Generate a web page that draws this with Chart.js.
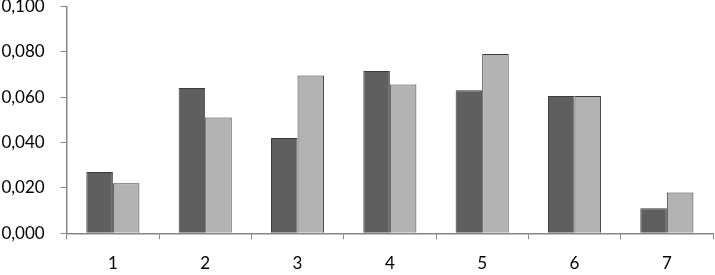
<!DOCTYPE html>
<html>
<head>
<meta charset="utf-8">
<script src="https://cdn.jsdelivr.net/npm/chart.js@4/dist/chart.umd.min.js"></script>
<style>
  html, body { margin: 0; padding: 0; background: #fff; overflow: hidden; }
  canvas { display: block; }
</style>
</head>
<body>
<canvas id="chart" width="715" height="275"></canvas>
<script>
// -----------------------------
// Data
// -----------------------------
const categories = ['1', '2', '3', '4', '5', '6', '7'];
const seriesDark = [0.027, 0.064, 0.042, 0.0715, 0.063, 0.0605, 0.011];
const seriesLight = [0.022, 0.051, 0.0695, 0.0655, 0.079, 0.0605, 0.018];
const yTicks = [0, 0.02, 0.04, 0.06, 0.08, 0.1];

const axisGray = '#868686';

// comma decimals, three places
function fmt(v) {
  return v.toFixed(3).replace('.', ',');
}

new Chart(document.getElementById('chart'), {
  type: 'bar',
  data: {
    labels: categories,
    datasets: [
      { data: seriesDark, backgroundColor: '#5f5f5f', borderColor: '#3c3c3c', borderWidth: 1 },
      { data: seriesLight, backgroundColor: '#b3b3b3', borderColor: '#3c3c3c', borderWidth: 1 }
    ]
  },
  options: {
    responsive: false,
    animation: false,
    layout: { padding: { top: 0, right: 2, bottom: 0, left: 0 } },
    plugins: { legend: { display: false }, tooltip: { enabled: false } },
    datasets: { bar: { categoryPercentage: 0.575, barPercentage: 1 } },
    scales: {
      x: {
        afterFit: axis => { axis.height = 41.7; },
        grid: { display: true, offset: true, drawOnChartArea: false, drawTicks: true, tickLength: 6, color: axisGray },
        border: { color: axisGray, width: 1.5 },
        ticks: { color: '#000', padding: 14, font: { family: 'Lato', size: 17 } }
      },
      y: {
        min: 0,
        max: 0.1,
        afterBuildTicks: axis => { axis.ticks = yTicks.map(v => ({ value: v })); },
        afterFit: axis => {
          axis.width = 66.7;
          axis.paddingTop = 6.3;
          axis.paddingBottom = 0;
        },
        grid: { display: true, drawOnChartArea: false, drawTicks: true, tickLength: 6, color: axisGray },
        border: { color: axisGray, width: 1.5 },
        ticks: { color: '#000', padding: 16, font: { family: 'Lato', size: 17 }, callback: v => fmt(v) }
      }
    }
  }
});
</script>
</body>
</html>
